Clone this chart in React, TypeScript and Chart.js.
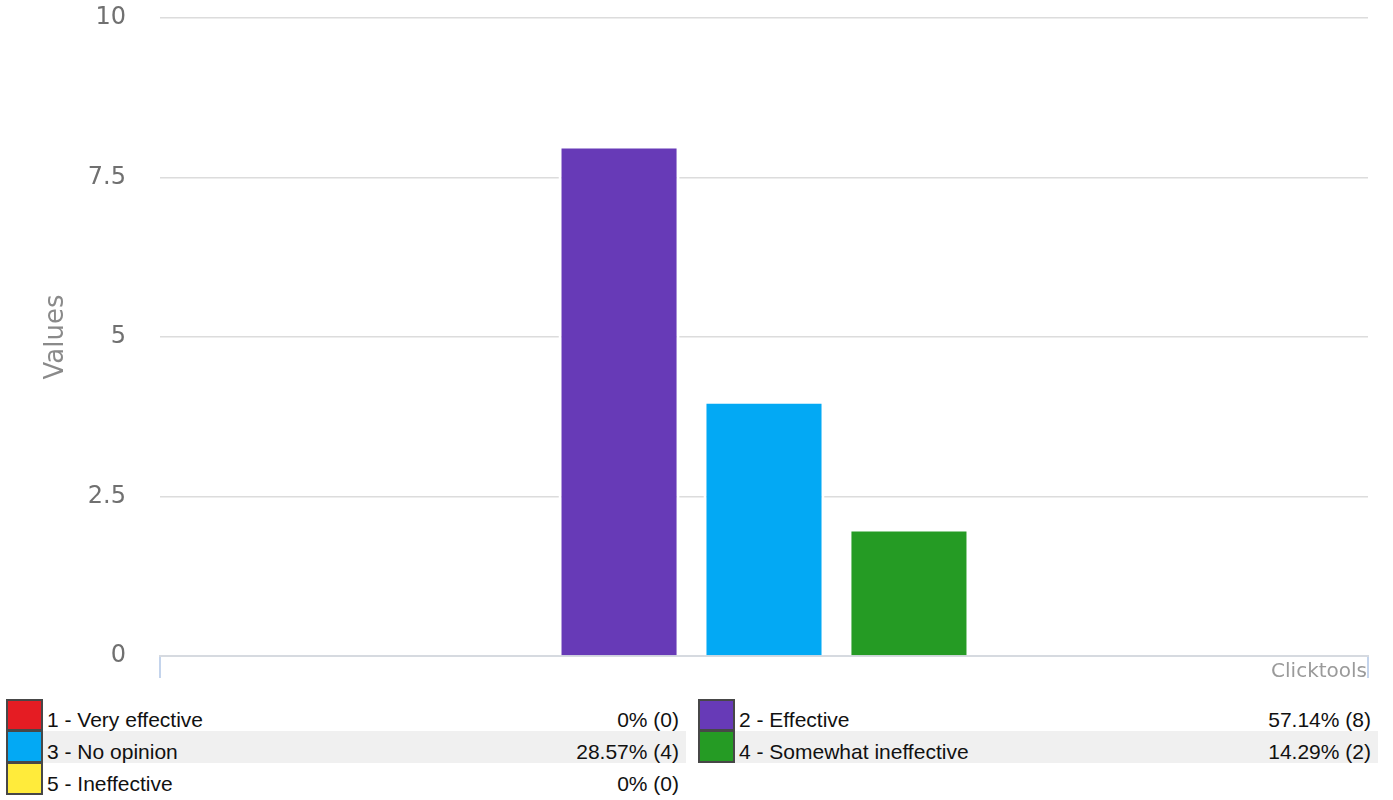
import React, { useEffect, useRef } from "react";
import { Chart, registerables } from "chart.js";

Chart.register(...registerables);

const categories = [
  "1 - Very effective",
  "2 - Effective",
  "3 - No opinion",
  "4 - Somewhat ineffective",
  "5 - Ineffective",
];
const counts = [0, 8, 4, 2, 0];
const percents = ["0%", "57.14%", "28.57%", "14.29%", "0%"];
const colors = ["#e51c23", "#673ab7", "#03a9f4", "#259b24", "#ffeb3b"];
const yMin = 0;
const yMax = 10;
const yStep = 2.5;
const yTitle = "Values";
const watermark = "Clicktools";

const watermarkPlugin = {
  id: "watermark",
  afterDraw(chart: any) {
    const { ctx, chartArea } = chart;
    ctx.save();
    ctx.font = "20px 'DejaVu Sans'";
    ctx.fillStyle = "#9a9a9a";
    ctx.textAlign = "right";
    ctx.textBaseline = "alphabetic";
    ctx.fillText(watermark, chartArea.right - 1, chartArea.bottom + 21);
    ctx.restore();
  },
};

export default function App() {
  const ref = useRef<HTMLCanvasElement | null>(null);

  useEffect(() => {
    document.body.style.margin = "0";
    const canvas = ref.current;
    if (!canvas) return;
    const chart = new Chart(canvas, {
      type: "bar",
      data: {
        labels: [""],
        datasets: categories.map((c, i) => ({
          label: c,
          data: [counts[i]],
          backgroundColor: colors[i],
          borderColor: "#ffffff",
          borderWidth: 3,
          borderSkipped: "bottom",
          barPercentage: 0.835,
          categoryPercentage: 0.6,
        })),
      },
      options: {
        animation: false,
        responsive: false,
        maintainAspectRatio: false,
        layout: { padding: { top: 18, right: 25, left: 0, bottom: 0 } },
        plugins: {
          legend: { display: false },
          tooltip: { enabled: false },
        },
        scales: {
          x: {
            grid: {
              display: true,
              drawOnChartArea: false,
              drawTicks: true,
              tickLength: 22,
              color: "#c4d4ec",
              lineWidth: 2,
              offset: true,
            },
            border: { display: true, color: "#d6dae0", width: 2 },
            ticks: { display: true },
            afterFit(scale: any) {
              scale.height = 41;
            },
          },
          y: {
            min: yMin,
            max: yMax,
            ticks: {
              stepSize: yStep,
              color: "#707070",
              font: { family: "'DejaVu Sans'", size: 24, lineHeight: 1.0 },
              padding: 34,
            },
            grid: {
              color: "#dcdcdc",
              lineWidth: 1.5,
              drawTicks: false,
            },
            border: { display: false },
            title: {
              display: true,
              text: yTitle,
              color: "#8a8a8a",
              font: { family: "'DejaVu Sans'", size: 26 },
              padding: { top: 41, bottom: 0 },
            },
            afterFit(scale: any) {
              scale.width = 160;
              scale.paddingTop = 0;
              scale.paddingBottom = 0;
            },
          },
        },
      },
      plugins: [watermarkPlugin],
    });
    return () => chart.destroy();
  }, []);

  const rows: number[][] = [];
  for (let i = 0; i < categories.length; i += 2) {
    rows.push([i, i + 1].filter((k) => k < categories.length));
  }

  return (
    <div style={{ width: 1393, fontFamily: "'Liberation Sans', Arial, sans-serif" }}>
      <div style={{ width: 1393, height: 697 }}>
        <canvas ref={ref} width={1393} height={697} style={{ display: "block" }} />
      </div>
      <div style={{ paddingLeft: 6, marginTop: 2 }}>
        {rows.map((row, r) => (
          <div key={r} style={{ display: "flex", height: 32 }}>
            {row.map((k, c) => (
              <div
                key={k}
                style={{ display: "flex", marginLeft: c === 1 ? 12 : 0 }}
              >
                <div
                  style={{
                    width: 37,
                    height: 32,
                    boxSizing: "border-box",
                    border: "2px solid #474747",
                    borderTop: r === 0 ? "2px solid #474747" : "1px solid #474747",
                    background: colors[k],
                  }}
                />
                <div
                  style={{
                    width: 643,
                    height: 32,
                    boxSizing: "border-box",
                    display: "flex",
                    justifyContent: "space-between",
                    alignItems: "center",
                    paddingLeft: 4,
                    paddingRight: 7,
                    paddingTop: 9,
                    background: r % 2 === 1 ? "#f0f0f0" : "transparent",
                    fontSize: 21,
                    color: "#111",
                  }}
                >
                  <span>{categories[k]}</span>
                  <span>
                    {percents[k]} ({counts[k]})
                  </span>
                </div>
              </div>
            ))}
          </div>
        ))}
      </div>
    </div>
  );
}
